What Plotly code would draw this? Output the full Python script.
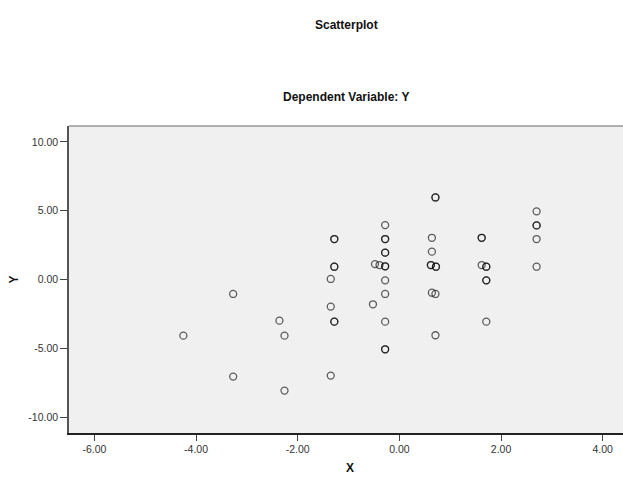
import plotly.graph_objects as go

# Data (duplicated points repeat)
x_vals = [-4.25, -3.27, -3.27, -2.36, -2.26, -2.26,
          -1.35, -1.35, -1.35,
          -1.28, -1.28, -1.28, -1.28, -1.28, -1.28,
          -0.52, -0.48, -0.39,
          -0.28, -0.28, -0.28, -0.28, -0.28, -0.28, -0.28,
          -0.28, -0.28, -0.28, -0.28, -0.28,
          0.64, 0.64, 0.62, 0.62, 0.72, 0.72, 0.64, 0.71, 0.71, 0.71, 0.71,
          1.62, 1.62, 1.62, 1.71, 1.71, 1.71, 1.71, 1.71,
          2.70, 2.70, 2.70, 2.70, 2.70]
y_vals = [-4.08, -1.05, -7.05, -2.99, -4.08, -8.07,
          0.04, -1.97, -6.98,
          2.94, 2.94, 0.93, 0.93, -3.06, -3.06,
          -1.80, 1.12, 1.05,
          3.95, 2.94, 2.94, 1.95, 1.95, 0.96, 0.96,
          -0.06, -1.05, -3.06, -5.07, -5.07,
          3.03, 2.02, 1.05, 1.05, 0.93, 0.93, -0.96, -1.05, -4.05, 5.96, 5.96,
          3.03, 3.03, 1.05, 0.93, 0.93, -0.06, -0.06, -3.06,
          4.95, 3.93, 3.93, 2.94, 0.93]

x_ticks = [-6, -4, -2, 0, 2, 4]
y_ticks = [-10, -5, 0, 5, 10]

FONT = "Liberation Sans, Arial, sans-serif"

fig = go.Figure()
fig.add_trace(go.Scatter(
    x=x_vals, y=y_vals, mode="markers",
    marker=dict(symbol="circle-open", size=7, color="rgba(0,0,0,0.62)",
                line=dict(width=1.3, color="rgba(0,0,0,0.62)")),
    hoverinfo="x+y", showlegend=False,
))

fig.update_layout(
    width=623, height=478,
    margin=dict(l=69, r=0, t=126, b=45),
    paper_bgcolor="white", plot_bgcolor="#f0f0f0",
    font=dict(family=FONT, color="#222", size=10.5),
    xaxis=dict(range=[-6.5, 4.4], tickvals=x_ticks,
               ticktext=[f"{v:.2f}" for v in x_ticks],
               showgrid=False, zeroline=False, showline=True,
               linecolor="#222", linewidth=1.5, ticks="outside",
               ticklen=6, tickcolor="#444", tickwidth=1,
               tickfont=dict(size=10.5, color="#333")),
    yaxis=dict(range=[-11.15, 11.15], tickvals=y_ticks,
               ticktext=[f"{v:.2f}" for v in y_ticks],
               showgrid=False, zeroline=False, showline=True,
               linecolor="#555", linewidth=1.5, ticks="outside",
               ticklen=7, tickcolor="#444", tickwidth=1,
               tickfont=dict(size=10.5, color="#333")),
    shapes=[dict(type="line", xref="paper", yref="paper", x0=0, x1=1, y0=1, y1=1,
                 line=dict(color="#666", width=1.2))],
    annotations=[
        dict(text="<b>Scatterplot</b>", xref="paper", yref="paper", x=0.5, y=1.329,
             xanchor="center", yanchor="middle", showarrow=False,
             font=dict(size=12, color="#111", family=FONT)),
        dict(text="<b>Dependent Variable: Y</b>", xref="paper", yref="paper", x=0.5, y=1.094,
             xanchor="center", yanchor="middle", showarrow=False,
             font=dict(size=12, color="#111", family=FONT)),
        dict(text="<b>X</b>", xref="paper", yref="paper", x=0.507, y=-0.114,
             xanchor="center", yanchor="middle", showarrow=False,
             font=dict(size=12, color="#111", family=FONT)),
        dict(text="<b>Y</b>", xref="paper", yref="paper", x=-0.101, y=0.5,
             xanchor="center", yanchor="middle", showarrow=False, textangle=-90,
             font=dict(size=12, color="#111", family=FONT)),
    ],
)

fig.write_html("out.html", config={"displayModeBar": False},
               post_script="document.body.style.margin='0';document.body.style.padding='0';")
